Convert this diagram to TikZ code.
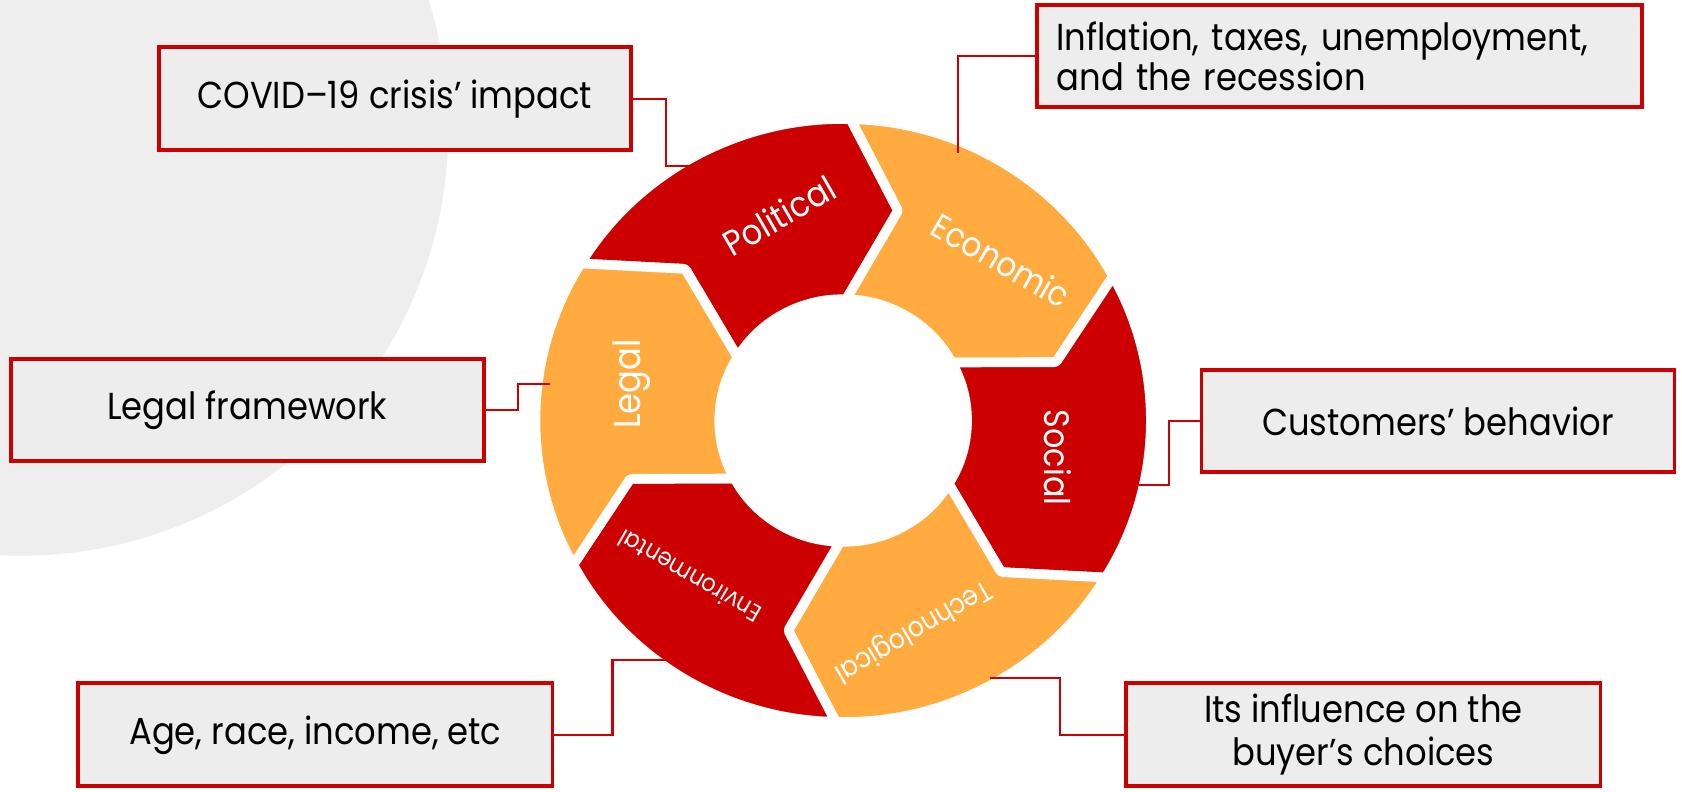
\documentclass[tikz,border=0pt]{standalone}
\usepackage{fontspec}
\setmainfont{Poppins}[FakeStretch=0.9]
\definecolor{segred}{HTML}{CC0000}
\definecolor{segorange}{HTML}{FFAB40}
\definecolor{boxgray}{HTML}{EDEDED}
\definecolor{bggray}{HTML}{EEEEEE}
\newcommand\boxfont{\fontsize{35}{38}\selectfont}
\newcommand\segfont{\fontsize{33}{36}\selectfont}
\newcommand\Ro{281}
\newcommand\Ri{113}
\newcommand\Rm{202}
\newcommand\dl{13}
\newcommand\ringseg[2]{%
  \filldraw[fill=#2, draw=white, line width=9pt, line join=round, rounded corners=2pt]
    ({#1+60}:\Ro) arc[start angle={#1+60}, end angle={#1}, radius=\Ro]
    -- ({#1-\dl}:\Rm) -- ({#1}:\Ri)
    arc[start angle={#1}, end angle={#1+60}, radius=\Ri]
    -- ({#1+60-\dl}:\Rm) -- cycle;}
\begin{document}
\begin{tikzpicture}[x=1pt,y=-1pt,
  box/.style={draw=segred, line width=3.5pt, fill=boxgray, inner sep=0pt, font=\boxfont, align=center},
  conn/.style={draw=segred, line width=2pt},
  segtxt/.style={text=white, font=\segfont, inner sep=0pt}]
\useasboundingbox (0,0) rectangle (1568,737.4);
\fill[bggray] (20,120) circle[radius=398];
% ring
\coordinate (C) at (786,392);
\begin{scope}[shift={(C)}, yscale=-1, xscale=1.02]
  \ringseg{88.6}{segred}
  \ringseg{28.6}{segorange}
  \ringseg{-31.4}{segred}
  \ringseg{-91.4}{segorange}
  \ringseg{-151.4}{segred}
  \ringseg{148.6}{segorange}
  \node[segtxt, rotate=30] (tpol) at (107:200) {Political};
  \node[segtxt, rotate=-30, font=\fontsize{32}{36}\selectfont] (teco) at (46:208) {Economic};
  \node[segtxt, rotate=-90] (tsoc) at (-10:199) {Social};
  \node[segtxt, rotate=-150, font=\fontsize{26}{30}\selectfont] (ttec) at (-72:206) {Technological};
  \node[segtxt, rotate=150, font=\fontsize{23}{28}\selectfont] (tenv) at (-134:202) {Environmental};
  \node[segtxt, rotate=90, font=\fontsize{35}{38}\selectfont] (tleg) at (170:196) {Legal};
\end{scope}
% boxes
\node[box, minimum width=440pt, minimum height=96pt] (covid) at (368,92) {COVID–19 crisis’ impact};
\node[box, minimum width=564pt, minimum height=95pt, text width=528pt, align=left] (econ) at (1249,52.5) {Inflation, taxes, unemployment,\\and the recession};
\node[box, minimum width=441pt, minimum height=95pt] (legal) at (230.5,382.5) {Legal framework};
\node[box, minimum width=441pt, minimum height=95pt] (social) at (1340.5,392.5) {Customers’ behavior};
\node[box, minimum width=442pt, minimum height=96pt] (age) at (294,685) {Age, race, income, etc};
\node[box, minimum width=442pt, minimum height=96pt, font=\fontsize{35}{40}\selectfont] (buyer) at (1271,685) {Its influence on the\\buyer’s choices};
% connector ends
\coordinate (pP) at (648,155);
\coordinate (pE) at (893,143);
\coordinate (pL) at (513,358);
\coordinate (pS) at (1062,452);
\coordinate (pN) at (620,615);
\coordinate (pT) at (923,632);
\draw[conn] (covid.east) -| (621,155) -- (pP);
\draw[conn] (econ.west) -| (pE);
\draw[conn] (legal.east) -| (483,358) -- (pL);
\draw[conn] (social.west) -| (1090,452) -- (pS);
\draw[conn] (age.east) -| (571,615) -- (pN);
\draw[conn] (buyer.west) -| (988,632) -- (pT);
\end{tikzpicture}
\end{document}
